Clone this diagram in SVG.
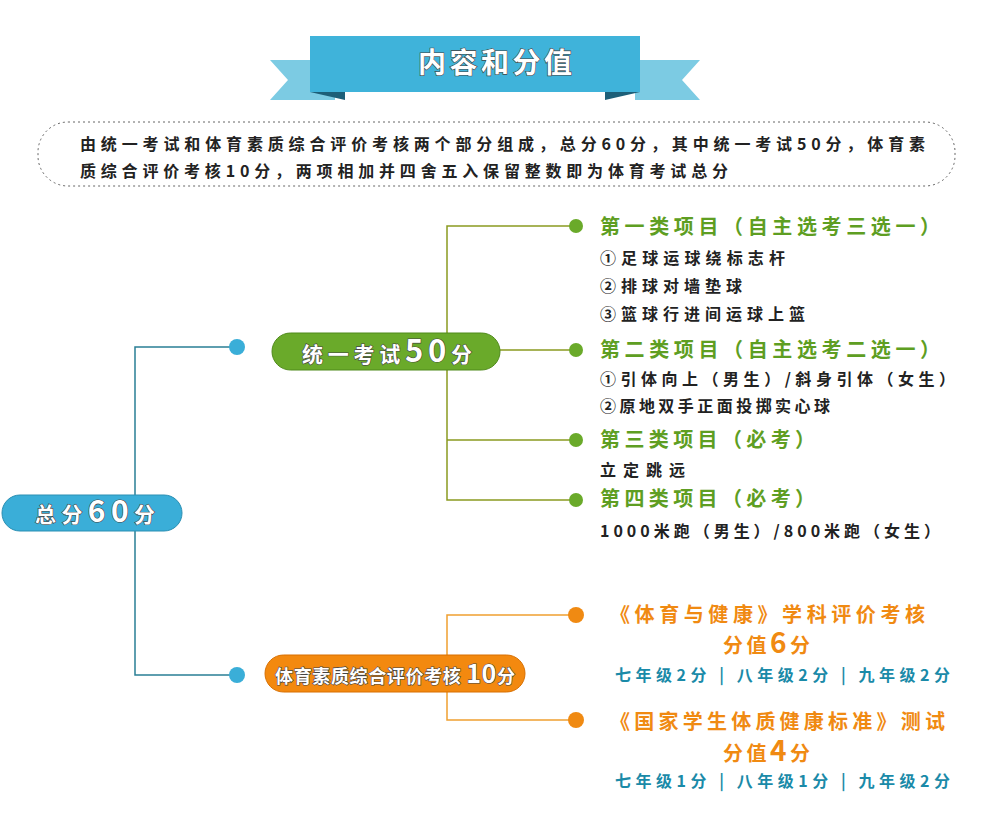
<svg xmlns="http://www.w3.org/2000/svg" width="1000" height="816" viewBox="0 0 1000 816">
<style>
text{font-family:"Noto Sans CJK SC","Liberation Sans",sans-serif;font-weight:bold}
.b{font-size:16px;fill:#222}
.g{font-size:20px;fill:#5e9e22}
.o{font-size:20px;fill:#f08a12}
.t{font-size:16px;fill:#1a8aa8}
.w{fill:#fff;stroke:#444;stroke-width:1.2;paint-order:stroke}
.lg{stroke:#8a9a20;stroke-width:1.5;fill:none}
.lo{stroke:#f0a030;stroke-width:1.5;fill:none}
.lb{stroke:#2a7f95;stroke-width:1.5;fill:none}
</style>
<rect width="1000" height="816" fill="#fff"/>
<g id="banner">
<polygon points="270,60 335,60 335,100 270,100 288,80" fill="#7ccbe3"/>
<polygon points="700,60 635,60 635,100 700,100 682,80" fill="#7ccbe3"/>
<polygon points="310,92 345,100 345,92" fill="#1d5f78"/>
<polygon points="640,92 605,100 605,92" fill="#1d5f78"/>
<rect x="310" y="36" width="330" height="56" fill="#3fb3da"/>
<text x="418" y="73" textLength="154" font-size="28" class="w">内容和分值</text>
</g>
<g id="intro">
<rect x="38" y="122" width="917" height="64" rx="30" fill="#fff" stroke="#666" stroke-dasharray="2,3"/>
<text x="80" y="150" class="b" font-size="17" textLength="845">由统一考试和体育素质综合评价考核两个部分组成，总分60分，其中统一考试50分，体育素</text>
<text x="80" y="177" class="b" font-size="17" textLength="648">质综合评价考核10分，两项相加并四舍五入保留整数即为体育考试总分</text>
</g>
<g id="connectors">
<path class="lb" d="M237,347 H135 V675 H237"/>
<path class="lg" d="M500,350 H575 M575,226 H447 V500 H575 M447,440 H575"/>
<path class="lo" d="M575,615 H447 V720 H575"/>
</g>
<g id="dots">
<circle cx="237" cy="347" r="8" fill="#3aaed8"/>
<circle cx="237" cy="675" r="8" fill="#3aaed8"/>
<circle cx="576" cy="226" r="7" fill="#6aaa2a"/>
<circle cx="576" cy="350" r="7" fill="#6aaa2a"/>
<circle cx="576" cy="440" r="7" fill="#6aaa2a"/>
<circle cx="576" cy="500" r="7" fill="#6aaa2a"/>
<circle cx="576" cy="615" r="8" fill="#f08a12"/>
<circle cx="576" cy="720" r="8" fill="#f08a12"/>
</g>
<g id="root">
<rect x="2" y="495" width="180" height="36" rx="18" fill="#3aaed8" stroke="#2a8fb3"/>
<text x="35" y="522" textLength="120" font-size="21" class="w">总分<tspan font-size="30">60</tspan>分</text>
</g>
<g id="exam">
<rect x="272" y="333" width="228" height="37" rx="18.5" fill="#6aaa2a" stroke="#4f8a1a"/>
<text x="302" y="362" textLength="170" font-size="21" class="w">统一考试<tspan font-size="31">50</tspan>分</text>
</g>
<g id="quality">
<rect x="265" y="655" width="260" height="37" rx="18.5" fill="#f3890f" stroke="#d86f00"/>
<text x="275" y="683" textLength="240" font-size="18" class="w">体育素质综合评价考核 <tspan font-size="25">10</tspan>分</text>
</g>
<g id="cat1">
<text x="600" y="234" class="g" textLength="340">第一类项目（自主选考三选一）</text>
<text x="600" y="264" class="b" textLength="185">①足球运球绕标志杆</text>
<text x="600" y="292" class="b" textLength="142">②排球对墙垫球</text>
<text x="600" y="320" class="b" textLength="205">③篮球行进间运球上篮</text>
</g>
<g id="cat2">
<text x="600" y="357" class="g" textLength="340">第二类项目（自主选考二选一）</text>
<text x="600" y="385" class="b" textLength="355">①引体向上（男生）/斜身引体（女生）</text>
<text x="600" y="412" class="b" textLength="230">②原地双手正面投掷实心球</text>
</g>
<g id="cat3">
<text x="600" y="447" class="g" textLength="215">第三类项目（必考）</text>
<text x="600" y="476" class="b" textLength="85">立定跳远</text>
</g>
<g id="cat4">
<text x="600" y="506" class="g" textLength="215">第四类项目（必考）</text>
<text x="600" y="537" class="b" textLength="340">1000米跑（男生）/800米跑（女生）</text>
</g>
<g id="q1">
<text x="610" y="622" class="o" textLength="315">《体育与健康》学科评价考核</text>
<text x="723" y="653" class="o" textLength="87">分值<tspan font-size="28">6</tspan>分</text>
<text x="615" y="681" class="t" textLength="335">七年级2分 | 八年级2分 | 九年级2分</text>
</g>
<g id="q2">
<text x="610" y="729" class="o" textLength="335">《国家学生体质健康标准》测试</text>
<text x="723" y="761" class="o" textLength="87">分值<tspan font-size="28">4</tspan>分</text>
<text x="615" y="787" class="t" textLength="335">七年级1分 | 八年级1分 | 九年级2分</text>
</g>
</svg>
